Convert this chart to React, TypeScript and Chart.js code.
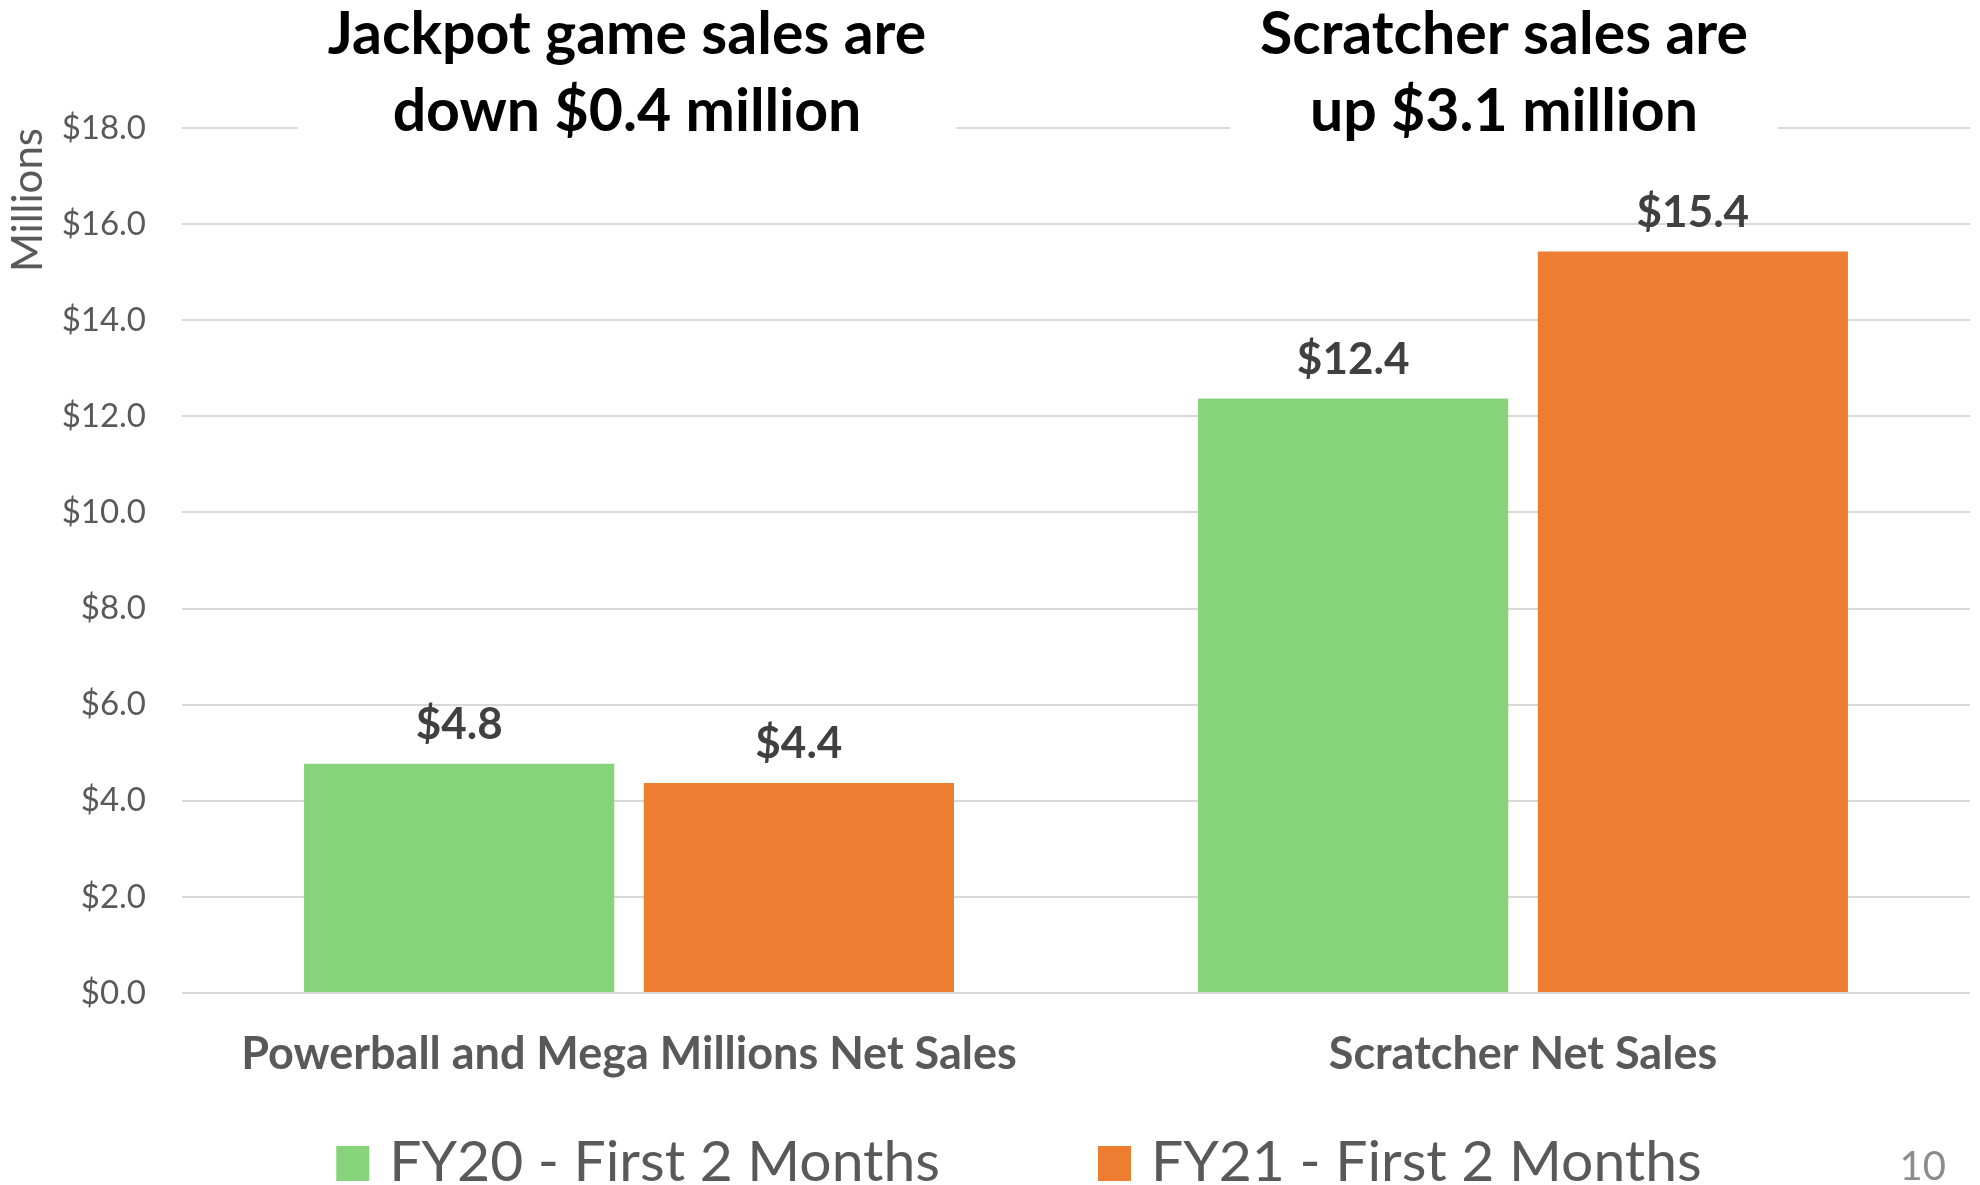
import React, { useEffect, useRef } from 'react';
import { Chart, registerables } from 'chart.js';

Chart.register(...registerables);

// ---- data ----
const categories = ['Powerball and Mega Millions Net Sales', 'Scratcher Net Sales'];
const seriesLabels = ['FY20 - First 2 Months', 'FY21 - First 2 Months'];
const fy20Values = [4.77, 12.37];
const fy21Values = [4.37, 15.43];
const seriesColors = ['#87D37B', '#ED7D31'];
const yMin = 0;
const yMax = 18;
const yStep = 2;
const headlineLines = [
  ['Jackpot game sales are', 'down $0.4 million'],
  ['Scratcher sales are', 'up $3.1 million'],
];
const axisTitle = 'Millions';
const pageNumber = '10';

const FONT = 'Lato, "Open Sans", "Liberation Sans", sans-serif';
const GRAY = '#595959';

const fmt = (v: number) => '$' + v.toFixed(1);

const overlayPlugin = {
  id: 'overlay',
  afterDatasetsDraw(chart: any) {
    const ctx = chart.ctx;
    ctx.save();
    ctx.font = `bold 44px ${FONT}`;
    ctx.fillStyle = '#404040';
    ctx.textAlign = 'center';
    ctx.textBaseline = 'alphabetic';
    chart.data.datasets.forEach((ds: any, di: number) => {
      const meta = chart.getDatasetMeta(di);
      meta.data.forEach((bar: any, i: number) => {
        ctx.fillText(fmt(ds.data[i] as number), bar.x, bar.y - 25);
      });
    });
    ctx.restore();
  },
  afterDraw(chart: any) {
    const ctx = chart.ctx;
    const xs = chart.scales.x;
    ctx.save();
    // headlines with white boxes
    const offsets = [-2, -19];
    ctx.font = `bold 59px ${FONT}`;
    headlineLines.forEach((lines, i) => {
      const cx = xs.getPixelForValue(i) + offsets[i];
      const w = Math.max(...lines.map((l) => ctx.measureText(l).width));
      ctx.fillStyle = '#ffffff';
      ctx.fillRect(cx - w / 2 - 30, 0, w + 60, 150);
      ctx.fillStyle = '#000000';
      ctx.textAlign = 'center';
      ctx.textBaseline = 'alphabetic';
      ctx.fillText(lines[0], cx, 54);
      ctx.fillText(lines[1], cx, 131);
    });

    // legend
    ctx.font = `57px ${FONT}`;
    const boxW = 33;
    const boxH = 35;
    const gapText = 20;
    const gapItem = 158;
    const items = chart.data.datasets.map((ds: any) => ({
      text: ds.label as string,
      color: ds.backgroundColor as string,
      w: ctx.measureText(ds.label).width,
    }));
    const total =
      items.reduce((s: number, it: any) => s + boxW + gapText + it.w, 0) + gapItem * (items.length - 1);
    let x = 1019 - total / 2;
    const baseY = 1181;
    items.forEach((it: any) => {
      ctx.fillStyle = it.color;
      ctx.fillRect(x, baseY - boxH, boxW, boxH);
      ctx.fillStyle = GRAY;
      ctx.textAlign = 'left';
      ctx.textBaseline = 'alphabetic';
      ctx.fillText(it.text, x + boxW + gapText, baseY);
      x += boxW + gapText + it.w + gapItem;
    });

    // page number
    ctx.font = `40px ${FONT}`;
    ctx.fillStyle = '#8c8c8c';
    ctx.textAlign = 'right';
    ctx.fillText(pageNumber, 1946, 1180);
    ctx.restore();
  },
};

export default function App() {
  const ref = useRef<HTMLCanvasElement>(null);
  useEffect(() => {
    document.body.style.margin = '0';
    const canvas = ref.current!;
    const chart = new Chart(canvas, {
      type: 'bar',
      data: {
        labels: categories,
        datasets: [
          {
            label: seriesLabels[0],
            data: fy20Values,
            backgroundColor: seriesColors[0],
            borderWidth: 0,
            categoryPercentage: 0.76,
            barPercentage: 0.913,
          },
          {
            label: seriesLabels[1],
            data: fy21Values,
            backgroundColor: seriesColors[1],
            borderWidth: 0,
            categoryPercentage: 0.76,
            barPercentage: 0.913,
          },
        ],
      },
      options: {
        responsive: false,
        animation: false,
        layout: { padding: { top: 128, right: 10, left: 0, bottom: 0 } },
        plugins: {
          legend: { display: false },
          tooltip: { enabled: false },
          title: { display: false },
        },
        scales: {
          x: {
            grid: { display: false, drawTicks: false },
            border: { display: false },
            ticks: {
              color: GRAY,
              font: { family: FONT, size: 45, weight: 'bold' },
              padding: 34,
              maxRotation: 0,
            },
            afterFit: (s: any) => {
              s.height = 192;
            },
          },
          y: {
            min: yMin,
            max: yMax,
            grid: { color: '#d9d9d9', lineWidth: 2, drawTicks: false },
            border: { display: false },
            ticks: {
              stepSize: yStep,
              color: GRAY,
              font: { family: FONT, size: 33 },
              padding: 36,
              callback: (v: any) => fmt(Number(v)),
            },
            title: {
              display: true,
              text: axisTitle,
              align: 'end',
              color: GRAY,
              font: { family: FONT, size: 42 },
              padding: { top: 3, bottom: 0 },
            },
            afterFit: (s: any) => {
              s.width = 182;
            },
          },
        },
      },
      plugins: [overlayPlugin],
    } as any);
    return () => chart.destroy();
  }, []);
  return (
    <div style={{ width: 1980, height: 1185 }}>
      <canvas ref={ref} width={1980} height={1185} style={{ display: 'block' }} />
    </div>
  );
}
